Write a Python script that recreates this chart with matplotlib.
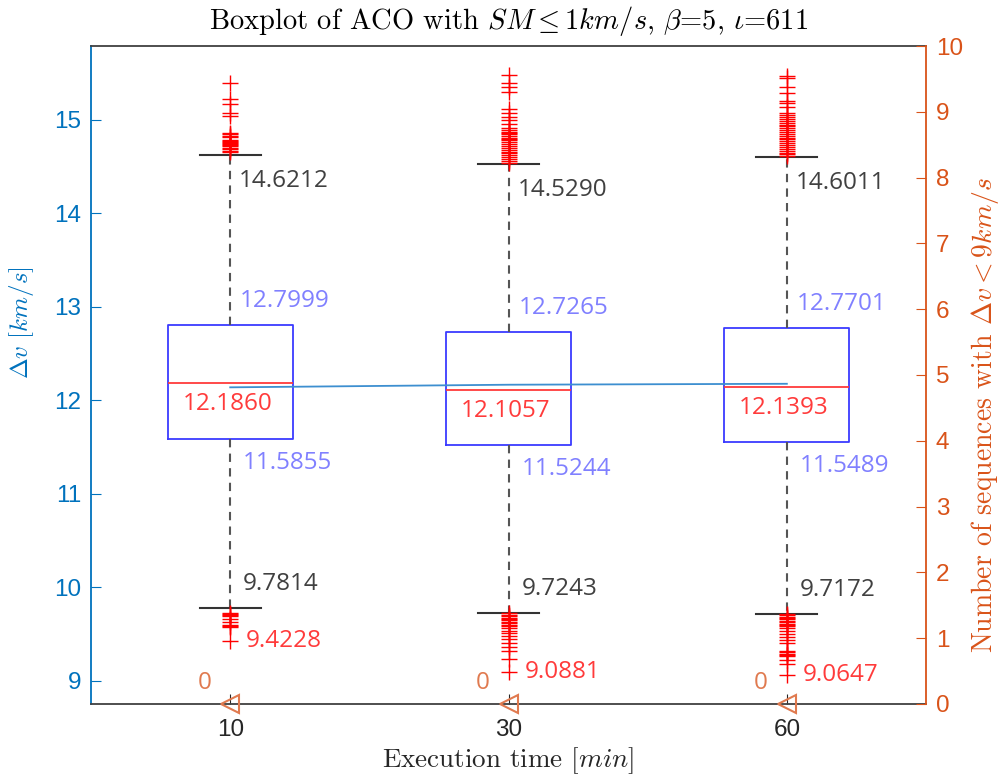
import numpy as np
import matplotlib.pyplot as plt

plt.rcParams['mathtext.fontset'] = 'cm'
plt.rcParams['axes.unicode_minus'] = False

# Execution times (x categories) and box statistics of delta-v [km/s]
times = ['10', '30', '60']
q1 = [11.5855, 11.5244, 11.5489]
med = [12.1860, 12.1057, 12.1393]
q3 = [12.7999, 12.7265, 12.7701]
whislo = [9.7814, 9.7243, 9.7172]
whishi = [14.6212, 14.5290, 14.6011]
means = [12.138, 12.166, 12.176]

# number of sequences with delta-v below 9 km/s
count_below_9 = [0, 0, 0]

# outliers above the upper whisker
fliers_hi = [
    [15.396, 15.218, 15.165, 15.068, 15.040, 14.860, 14.845, 14.830, 14.815,
     14.780, 14.770, 14.760, 14.750, 14.740, 14.730, 14.720, 14.700, 14.685,
     14.670, 14.655],
    [15.478, 15.396, 15.353, 15.300, 15.111, 15.068, 15.026, 14.997, 14.960,
     14.910, 14.890, 14.875, 14.860, 14.845, 14.826, 14.810, 14.800, 14.780,
     14.760, 14.740, 14.720, 14.700, 14.680, 14.660, 14.640, 14.620, 14.600,
     14.580, 14.560, 14.540],
    [15.467, 15.443, 15.353, 15.289, 15.203, 15.175, 15.139, 15.070, 15.050,
     15.030, 15.010, 14.990, 14.970, 14.950, 14.930, 14.910, 14.890, 14.870,
     14.850, 14.830, 14.810, 14.790, 14.770, 14.750, 14.730, 14.710, 14.690,
     14.670, 14.650, 14.630, 14.610],
]
# outliers below the lower whisker
fliers_lo = [
    [9.721, 9.712, 9.703, 9.692, 9.657, 9.631, 9.596, 9.585, 9.574, 9.4228],
    [9.720, 9.705, 9.690, 9.675, 9.660, 9.645, 9.630, 9.615, 9.600, 9.585,
     9.560, 9.535, 9.513, 9.478, 9.443, 9.406, 9.357, 9.321, 9.229, 9.0881],
    [9.715, 9.700, 9.685, 9.670, 9.655, 9.640, 9.625, 9.610, 9.595, 9.580,
     9.565, 9.535, 9.500, 9.464, 9.435, 9.400, 9.320, 9.305, 9.290, 9.275,
     9.260, 9.221, 9.179, 9.0647],
]

pos = [1, 2, 3]
c_left = '#0072BD'
c_right = '#D95319'
c_gray = '#404040'
c_quart = '#8080ff'
c_red = '#ff3b3b'
c_zero = '#e07a4f'
num_font = 'Open Sans'
cm_font = 'cmr10'

fig = plt.figure(figsize=(10.06, 7.81), dpi=100)
ax = fig.add_axes([0.0905, 0.0986, 0.830, 0.8425])

stats = []
for i in range(3):
    stats.append(dict(med=med[i], q1=q1[i], q3=q3[i], whislo=whislo[i],
                      whishi=whishi[i], fliers=fliers_hi[i] + fliers_lo[i]))

ax.bxp(stats, positions=pos, widths=0.45, capwidths=0.22, showfliers=True,
       boxprops=dict(color='#3a3aff', lw=1.3),
       medianprops=dict(color='#ff3a3a', lw=1.3),
       whiskerprops=dict(color='#555555', lw=1.5, ls=(0, (4, 3))),
       capprops=dict(color='#333333', lw=1.5),
       flierprops=dict(marker='+', markeredgecolor='red', markersize=11,
                       markeredgewidth=1.0, linestyle='none'))

# mean line
ax.plot(pos, means, color='#3d8fd0', lw=1.3)

ax.set_xlim(0.5, 3.5)
ax.set_ylim(8.75, 15.79)
ax.set_xticks(pos)
ax.set_xticklabels(times)
ax.set_yticks(range(9, 16))

for lbl in ax.get_xticklabels() + ax.get_yticklabels():
    lbl.set_fontfamily('Liberation Sans')
    lbl.set_fontsize(17.5)

ax.tick_params(axis='y', direction='in', length=7, colors=c_left, pad=7)
ax.tick_params(axis='x', direction='in', length=7, colors='#262626', pad=11)
ax.spines['left'].set_color(c_left)
ax.spines['left'].set_linewidth(1.3)
ax.spines['right'].set_visible(False)
for s in ['top', 'bottom']:
    ax.spines[s].set_color('#404040')
    ax.spines[s].set_linewidth(1.3)

# value labels next to each box
for i, x in enumerate(pos):
    ax.annotate(f'{whishi[i]:.4f}', (x, whishi[i]), xytext=(9, -26),
                textcoords='offset pixels', ha='left', va='center',
                color=c_gray, fontsize=17.5, family=num_font)
    ax.annotate(f'{q3[i]:.4f}', (x, q3[i]), xytext=(10, 24),
                textcoords='offset pixels', ha='left', va='center',
                color=c_quart, fontsize=17.5, family=num_font)
    ax.annotate(f'{med[i]:.4f}', (x, med[i]), xytext=(-3, -21),
                textcoords='offset pixels', ha='center', va='center',
                color=c_red, fontsize=17.5, family=num_font)
    ax.annotate(f'{q1[i]:.4f}', (x, q1[i]), xytext=(13, -24),
                textcoords='offset pixels', ha='left', va='center',
                color=c_quart, fontsize=17.5, family=num_font)
    ax.annotate(f'{whislo[i]:.4f}', (x, whislo[i]), xytext=(13, 24),
                textcoords='offset pixels', ha='left', va='center',
                color=c_gray, fontsize=17.5, family=num_font)
    lo = min(fliers_lo[i])
    ax.annotate(f'{lo:.4f}', (x, lo), xytext=(16, 0),
                textcoords='offset pixels', ha='left', va='center',
                color=c_red, fontsize=17.5, family=num_font)

ax.set_ylabel(r'$\Delta v$ $[km/s]$', color=c_left, fontsize=18)
ax.yaxis.set_label_coords(-0.066, 0.58)
ax.set_xlabel(r'Execution time $[min]$', color='#262626', fontsize=19.5,
              family=cm_font, labelpad=3)
ax.set_title(r'Boxplot of ACO with $SM \leq 1km/s$, $\beta$=5, $\iota$=611',
             fontsize=20.5, family=cm_font, pad=12)

# right axis: count of sequences below 9 km/s
ax2 = ax.twinx()
ax2.set_ylim(0, 10)
ax2.set_yticks(range(0, 11))
ax2.plot(pos, count_below_9, ls='none', marker='<', mfc='none', mec=c_zero,
         ms=13, mew=1.5, clip_on=False, zorder=5)
for i, x in enumerate(pos):
    ax2.annotate(f'{count_below_9[i]}', (x, count_below_9[i]), xytext=(-26, 21),
                 textcoords='offset pixels', ha='center', va='center',
                 color=c_zero, fontsize=17.5, family=num_font)

for lbl in ax2.get_yticklabels():
    lbl.set_fontfamily('Liberation Sans')
    lbl.set_fontsize(17.5)
ax2.tick_params(axis='y', direction='in', length=7, colors=c_right, pad=7)
ax2.spines['right'].set_color(c_right)
ax2.spines['right'].set_linewidth(1.3)
for s in ['left', 'top', 'bottom']:
    ax2.spines[s].set_visible(False)
ax2.set_ylabel(r'Number of sequences with $\Delta v < 9km/s$', color=c_right,
               fontsize=20, family=cm_font)
ax2.yaxis.set_label_coords(1.052, 0.44)

fig.savefig('out.png', dpi=100)
